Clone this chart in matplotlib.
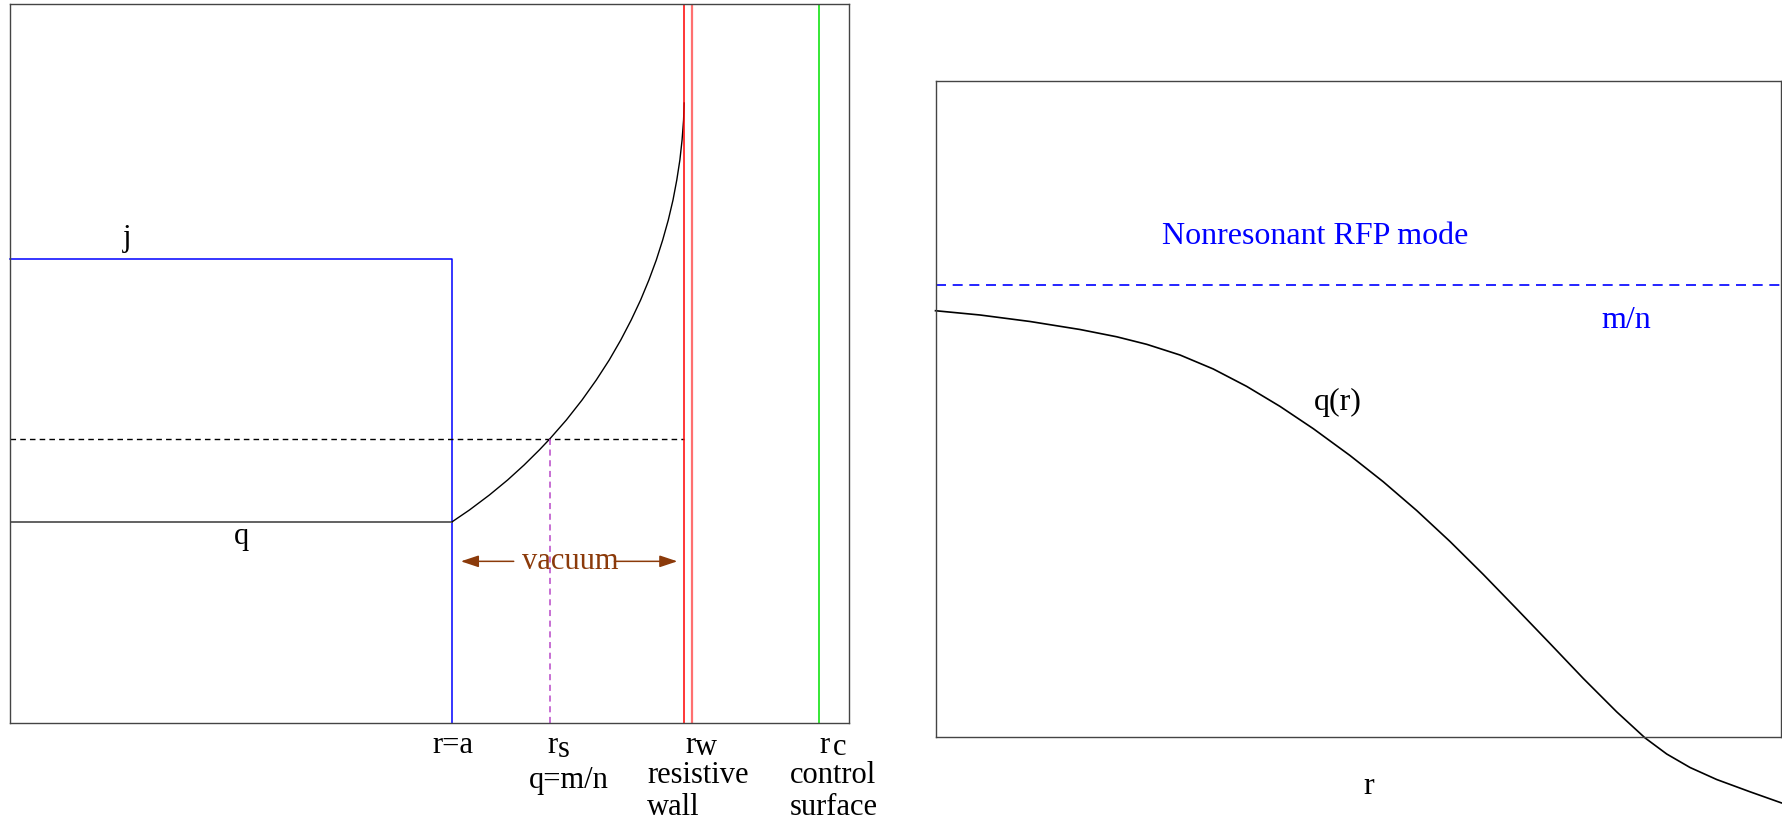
import matplotlib
matplotlib.use("Agg")
import matplotlib.pyplot as plt

plt.rcParams['font.family'] = ['Liberation Serif', 'DejaVu Serif']

# ---------------- data: left panel (arbitrary units, axes 0..10 x 0..10) ----------------
r_a = 5.27          # plasma edge r=a
r_s = 6.43          # resonant surface
r_w = 8.03          # resistive wall (inner)
r_w2 = 8.13         # resistive wall (outer)
r_c = 9.64          # control surface
j_level = 6.46      # current density level
q_edge = 2.80       # q inside plasma
q_res = 3.95        # q = m/n level
vac_y = 2.25        # vacuum arrow height
vac_left, vac_right = 5.37, 7.95

q_vac_r = [5.268, 5.473, 5.710, 5.927, 6.124, 6.305, 6.429, 6.627, 6.814, 6.984, 7.138, 7.276,
           7.400, 7.512, 7.611, 7.699, 7.775, 7.842, 7.898, 7.943, 7.980, 8.006, 8.024, 8.031]
q_vac_q = [2.802, 2.965, 3.173, 3.382, 3.591, 3.800, 3.953, 4.217, 4.495, 4.774, 5.052, 5.331,
           5.609, 5.887, 6.166, 6.444, 6.722, 7.001, 7.279, 7.557, 7.836, 8.114, 8.392, 8.629]

# ---------------- data: right panel (axes fraction units) ----------------
mn_level = 0.688
rfp_r = [0.0, 0.0526, 0.1117, 0.1708, 0.2142, 0.2497, 0.2891, 0.3284, 0.3679, 0.4073,
         0.4467, 0.4901, 0.5294, 0.5689, 0.6083, 0.6477, 0.6872, 0.7265, 0.7659, 0.8054,
         0.8389, 0.8645, 0.8921, 0.9236, 0.9630, 1.0]
rfp_q = [0.6494, 0.6429, 0.6330, 0.6208, 0.6097, 0.5982, 0.5819, 0.5606, 0.5341, 0.5036,
         0.4696, 0.4287, 0.3887, 0.3449, 0.2977, 0.2474, 0.1949, 0.1422, 0.0889, 0.0380,
         -0.0017, -0.0262, -0.0468, -0.0651, -0.0838, -0.1007]

BLUE = '#0000ff'
RED = '#ff0000'
RED2 = '#ff7070'
GREEN = '#00e000'
PURPLE = '#b848c8'
BROWN = '#8b3a0a'
FRAME = '#444444'
FS = 22
FS_R = 23

fig = plt.figure(figsize=(17.83, 8.22), dpi=100)

# ---------------- left panel ----------------
ax = fig.add_axes([0.00572, 0.12044, 0.47067, 0.87409])
ax.set_xlim(0, 10)
ax.set_ylim(0, 10)
ax.set_xticks([])
ax.set_yticks([])
for s in ax.spines.values():
    s.set_color(FRAME)
    s.set_linewidth(1.0)

# current j
ax.plot([0, r_a, r_a], [j_level, j_level, 0], color=BLUE, lw=1.1, clip_on=False)
# q profile
ax.plot([0, r_a], [q_edge, q_edge], color='#555555', lw=1.3)
ax.plot(q_vac_r, q_vac_q, color='black', lw=1.0, solid_joinstyle='round')
# q=m/n dashed
ax.plot([0, r_w], [q_res, q_res], color='black', lw=1.0, dashes=(4, 3))
ax.plot([r_s, r_s], [0, q_res], color=PURPLE, lw=1.1, dashes=(4, 3))
# walls
ax.axvline(r_w, color=RED, lw=1.1)
ax.axvline(r_w2, color=RED2, lw=1.6)
ax.axvline(r_c, color=GREEN, lw=1.1)

# vacuum arrow
ax.text(6.67, vac_y, 'vacuum', color=BROWN, fontsize=FS, ha='center', va='center')
ax.annotate('', xy=(vac_left, vac_y), xytext=(6.00, vac_y),
            arrowprops=dict(arrowstyle='-|>,head_length=0.9,head_width=0.3', color=BROWN,
                            lw=1.1, shrinkA=0, shrinkB=0, mutation_scale=12))
ax.annotate('', xy=(vac_right, vac_y), xytext=(7.20, vac_y),
            arrowprops=dict(arrowstyle='-|>,head_length=0.9,head_width=0.3', color=BROWN,
                            lw=1.1, shrinkA=0, shrinkB=0, mutation_scale=12))

ax.text(1.39, 6.74, 'j', fontsize=FS, ha='center', va='center')
ax.text(2.76, 2.59, 'q', fontsize=FS, ha='center', va='center')

P = 0.72  # px -> pt at dpi 100


def lab(x, dx, dy, s, ha='center'):
    ax.annotate(s, xy=(x, 0), xycoords=('data', 'axes fraction'),
                xytext=(dx * P, dy * P), textcoords='offset points',
                ha=ha, va='baseline', fontsize=FS, annotation_clip=False)


lab(r_a, 0, -30, 'r=a')
lab(r_s, 3, -30, 'r')
lab(r_s, 8, -34, 's', ha='left')
lab(r_s, 19, -65, 'q=m/n')
lab(r_w, 6, -30, 'r')
lab(r_w, 11, -32, 'w', ha='left')
lab(r_w, -37, -60, 'resistive', ha='left')
lab(r_w, -37, -92, 'wall', ha='left')
lab(r_c, 5, -30, 'r')
lab(r_c, 14, -32, 'c', ha='left')
lab(r_c, -29, -60, 'control', ha='left')
lab(r_c, -29, -92, 'surface', ha='left')

# ---------------- right panel ----------------
bx = fig.add_axes([0.52468, 0.10365, 0.47437, 0.79818])
bx.set_xlim(0, 1)
bx.set_ylim(0, 1)
bx.set_xticks([])
bx.set_yticks([])
for s in bx.spines.values():
    s.set_color(FRAME)
    s.set_linewidth(1.0)

bx.plot([0, 1], [mn_level, mn_level], color=BLUE, lw=1.2, dashes=(6, 4))
bx.plot(rfp_r, rfp_q, color='black', lw=1.2, clip_on=False, solid_joinstyle='round')

bx.text(0.449, 0.763, 'Nonresonant RFP mode', color=BLUE, fontsize=FS_R, ha='center', va='center')
bx.text(0.817, 0.635, 'm/n', color=BLUE, fontsize=FS_R, ha='center', va='center')
bx.text(0.476, 0.510, 'q(r)', fontsize=FS_R, ha='center', va='center')
bx.text(0.512, -0.076, 'r', fontsize=FS_R, ha='center', va='center')

fig.savefig('out.png', dpi=100)
